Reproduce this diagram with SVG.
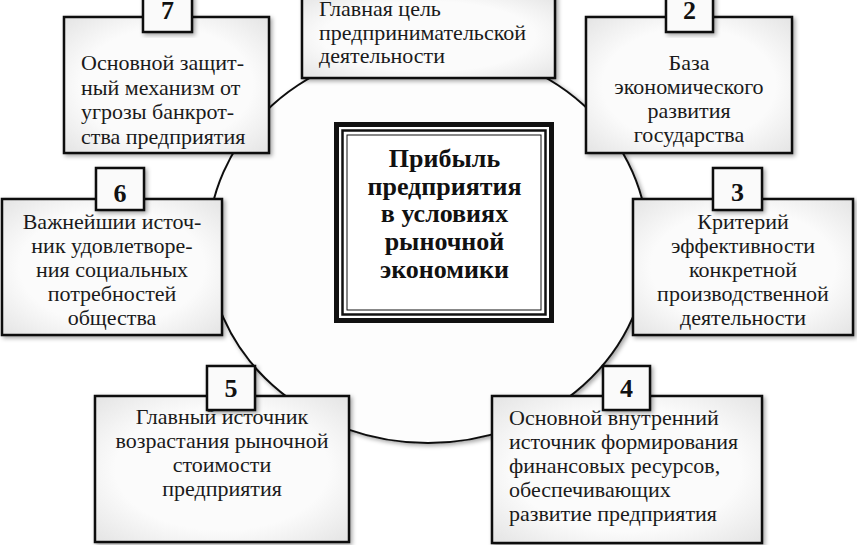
<svg xmlns="http://www.w3.org/2000/svg" width="857" height="545" viewBox="0 0 857 545">
<defs>
<filter id="sh" x="-10%" y="-10%" width="125%" height="125%">
<feDropShadow dx="2" dy="2" stdDeviation="2" flood-color="#000" flood-opacity="0.35"/>
</filter>
<radialGradient id="bf" cx="50%" cy="50%" r="70%">
<stop offset="0.6" stop-color="#fbfbfb"/>
<stop offset="1" stop-color="#e4e4e4"/>
</radialGradient>
<style>
.box{fill:url(#bf);stroke:#111;stroke-width:2.5;filter:url(#sh)}
.num{fill:#fafafa;stroke:#111;stroke-width:2.5;filter:url(#sh)}
.t{font-family:"Liberation Serif","Times New Roman",serif;font-size:22px;fill:#1a1a1a}
.c{text-anchor:middle}
.n{font-family:"Liberation Serif","Times New Roman",serif;font-size:26px;font-weight:bold;text-anchor:middle;fill:#111}
.m{font-family:"Liberation Serif","Times New Roman",serif;font-size:26px;font-weight:bold;text-anchor:middle;fill:#111}
</style>
</defs>
<rect width="857" height="545" fill="#ffffff"/>
<g id="connectors"></g>
<g id="circle">
<ellipse cx="428" cy="245" rx="220" ry="198" fill="#fdfdfd" stroke="#111" stroke-width="2" filter="url(#sh)"/>
</g>
<g id="center">
<rect x="334" y="122" width="220" height="201" fill="#fff"/>
<rect x="336.5" y="124.5" width="215" height="196" fill="none" stroke="#111" stroke-width="5"/>
<rect x="342.5" y="130.5" width="203" height="184" fill="none" stroke="#111" stroke-width="2.5"/>
<rect x="347" y="135" width="194" height="175" fill="none" stroke="#111" stroke-width="1"/>
<text class="m" x="444.5" y="167">Прибыль</text>
<text class="m" x="444.5" y="195">предприятия</text>
<text class="m" x="444.5" y="222">в условиях</text>
<text class="m" x="444.5" y="250">рыночной</text>
<text class="m" x="444.5" y="278">экономики</text>
</g>
<g id="node1">
<rect class="box" x="302" y="-5" width="253" height="83"/>
<text class="t" x="319" y="16">Главная цель</text>
<text class="t" x="319" y="39.5">предпринимательской</text>
<text class="t" x="319" y="63">деятельности</text>
</g>
<g id="node2">
<rect class="box" x="586" y="17" width="206" height="136"/>
<text class="t c" x="689" y="70">База</text>
<text class="t c" x="689" y="94">экономического</text>
<text class="t c" x="689" y="118">развития</text>
<text class="t c" x="689" y="142">государства</text>
<rect class="num" x="666" y="-5" width="47" height="37"/>
<text class="n" x="689.5" y="18.5">2</text>
</g>
<g id="node7">
<rect class="box" x="64" y="17" width="205" height="136"/>
<text class="t" x="81" y="70">Основной защит-</text>
<text class="t" x="81" y="94.5">ный механизм от</text>
<text class="t" x="81" y="119">угрозы банкрот-</text>
<text class="t" x="81" y="143.5">ства предприятия</text>
<rect class="num" x="143" y="-5" width="49" height="37"/>
<text class="n" x="167.5" y="18.5">7</text>
</g>
<g id="node6">
<rect class="box" x="2" y="199" width="220" height="136"/>
<text class="t c" x="112" y="229">Важнейшии источ-</text>
<text class="t c" x="112" y="253">ник удовлетворе-</text>
<text class="t c" x="112" y="277">ния социальных</text>
<text class="t c" x="112" y="301">потребностей</text>
<text class="t c" x="112" y="325">общества</text>
<rect class="num" x="96" y="168" width="48" height="42"/>
<text class="n" x="120" y="202">6</text>
</g>
<g id="node3">
<rect class="box" x="633" y="199" width="220" height="136"/>
<text class="t c" x="743" y="229">Критерий</text>
<text class="t c" x="743" y="253">эффективности</text>
<text class="t c" x="743" y="277">конкретной</text>
<text class="t c" x="743" y="301">производственной</text>
<text class="t c" x="743" y="325">деятельности</text>
<rect class="num" x="713" y="168" width="49" height="42"/>
<text class="n" x="737.5" y="201">3</text>
</g>
<g id="node5">
<rect class="box" x="95" y="396" width="254" height="146"/>
<text class="t c" x="222" y="424">Главный источник</text>
<text class="t c" x="222" y="448">возрастания рыночной</text>
<text class="t c" x="222" y="472">стоимости</text>
<text class="t c" x="222" y="496">предприятия</text>
<rect class="num" x="207" y="366" width="48" height="44"/>
<text class="n" x="231" y="397">5</text>
</g>
<g id="node4">
<rect class="box" x="492" y="396" width="270" height="147"/>
<text class="t" x="509" y="425">Основной внутренний</text>
<text class="t" x="509" y="449">источник формирования</text>
<text class="t" x="509" y="473">финансовых ресурсов,</text>
<text class="t" x="509" y="497">обеспечивающих</text>
<text class="t" x="509" y="521">развитие предприятия</text>
<rect class="num" x="603" y="366" width="47" height="44"/>
<text class="n" x="626.5" y="397">4</text>
</g>
</svg>
